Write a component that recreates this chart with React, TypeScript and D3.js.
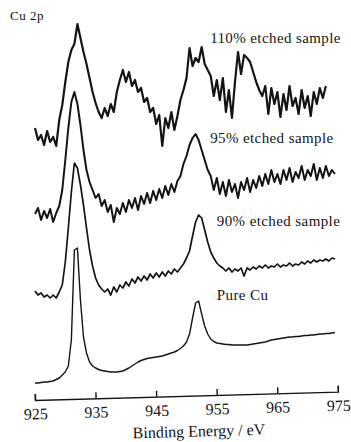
import React, { useEffect, useRef } from 'react';
import * as d3 from 'd3';

// binding energy grid, 0.5 eV steps
const energy = d3.range(925, 975, 0.5);

const xTicks = [925, 935, 945, 955, 965, 975];

const seriesNames = ['110% etched sample', '95% etched sample', '90% etched sample', 'Pure Cu'];

// stacked intensities (a.u.), offsets already included
const etched110 = [
  272, 260, 265, 255, 269, 258, 263, 254, 280, 295,
  318, 338, 350, 356, 376, 362, 348, 336, 322, 308,
  297, 288, 282, 292, 284, 296, 288, 308, 320, 330,
  318, 328, 314, 320, 308, 312, 298, 302, 288, 292,
  276, 285, 254, 282, 272, 288, 270, 284, 300, 310,
  322, 352, 334, 342, 338, 353, 336, 330, 324, 304,
  320, 300, 322, 288, 310, 282, 318, 348, 326, 345,
  342, 338, 328, 318, 310, 304, 314, 286, 312, 296,
  308, 283, 306, 290, 314, 294, 302, 286, 310, 292,
  304, 284, 308, 296, 312, 302, 314, null, null, null,
];

const etched95 = [
  186, 192, 180, 189, 182, 191, 178, 187, 194, 210,
  240, 272, 298, 308, 296, 275, 250, 230, 218, 210,
  202, 206, 194, 200, 188, 195, 178, 192, 186, 197,
  188, 200, 192, 202, 190, 204, 196, 207, 197, 209,
  200, 211, 202, 214, 205, 216, 208, 219, 224, 236,
  244, 255, 262, 266, 260, 250, 240, 230, 224, 210,
  222, 206, 218, 204, 220, 208, 216, 202, 218, 210,
  222, 208, 220, 212, 224, 214, 226, 216, 230, 218,
  226, 216, 230, 220, 232, 218, 228, 222, 234, 220,
  230, 224, 236, 220, 232, 222, 234, 224, 230, 226,
];

const etched90 = [
  109, 105, 107, 103, 105, 102, 105, 102, 108, 115,
  138, 172, 208, 237, 232, 215, 195, 172, 150, 134,
  122, 115, 111, 108, 111, 105, 113, 108, 115, 112,
  118, 114, 121, 117, 123, 119, 124, 120, 126, 122,
  127, 123, 128, 124, 129, 126, 131, 128, 132, 136,
  142, 149, 164, 178, 185, 182, 170, 158, 148, 142,
  137, 134, 132, 129, 132, 128, 131, 129, 132, 124,
  132, 130, 133, 131, 134, 132, 135, 132, 134, 133,
  136, 133, 135, 134, 137, 134, 136, 135, 138, 136,
  139, 137, 140, 138, 140, 139, 141, 139, 142, 141,
];

const pureCu = [
  17, 17, 17.5, 18, 18, 18.5, 19, 20.5, 22, 25,
  28, 34, 60, 150, 152, 100, 63, 47, 38, 34,
  32, 30.5, 29.5, 29, 28.5, 28, 28, 28, 28.5, 29,
  30.5, 32, 34, 36, 38, 39.5, 40.5, 41.5, 42, 42.5,
  43, 43.5, 44, 45, 46, 47, 48, 49.5, 51.5, 54,
  58, 66, 82, 97, 99, 86, 74, 66, 61, 58.5,
  57, 56.5, 56, 55.5, 55.5, 55, 55, 55, 55, 55,
  55, 55.5, 56, 56.5, 57, 57.5, 58, 59, 60, 60.5,
  61, 61.5, 62, 62.5, 63, 63, 63.5, 63.5, 64, 64.5,
  64.5, 65, 65, 65.5, 66, 66, 66.5, 66.5, 67, 67.5,
];

const allSeries = [etched110, etched95, etched90, pureCu];

// where each label sits, in data units (energy, intensity)
const labelPos: [number, number][] = [
  [953.9, 357],
  [953.9, 257],
  [955.0, 174],
  [955.0, 100],
];

export default function App() {
  const svgRef = useRef<SVGSVGElement>(null);
  const width = 351;
  const height = 442;

  useEffect(() => {
    if (!svgRef.current) return;
    const svg = d3.select(svgRef.current);
    svg.selectAll('*').remove();

    const font = "'Liberation Serif', 'DejaVu Serif', 'Times New Roman', serif";
    const ink = '#141414';

    const xScale = d3.scaleLinear().domain([925, 975]).range([35, 338]);
    const yScale = d3.scaleLinear().domain([0, 400]).range([400, 0]);

    const line = d3.line<number | null>()
      .defined(d => d != null)
      .x((_, i) => xScale(energy[i]))
      .y(d => yScale(d as number));

    const widths = [2.2, 2.0, 1.7, 1.4];
    allSeries.forEach((s, k) => {
      svg.append('path')
        .datum(s)
        .attr('fill', 'none')
        .attr('stroke', ink)
        .attr('stroke-width', widths[k])
        .attr('stroke-linejoin', 'round')
        .attr('d', line);
    });

    // series labels
    seriesNames.forEach((name, k) => {
      svg.append('text')
        .attr('x', xScale(labelPos[k][0]))
        .attr('y', yScale(labelPos[k][1]))
        .attr('font-family', font)
        .attr('font-size', 15)
        .attr('letter-spacing', 0.4)
        .attr('fill', ink)
        .text(name);
    });

    svg.append('text')
      .attr('x', 10)
      .attr('y', 20)
      .attr('font-family', font)
      .attr('font-size', 13)
      .attr('letter-spacing', 0.5)
      .attr('fill', ink)
      .text('Cu 2p');

    // axis (the scan is slightly tilted)
    const axisG = svg.append('g')
      .attr('transform', `translate(0,${yScale(0)}) rotate(-1.57, ${xScale(925)}, 0)`);

    axisG.call(
      d3.axisBottom(xScale)
        .tickValues(xTicks)
        .tickSize(-6)
        .tickPadding(8)
        .tickFormat(d3.format('d'))
    );
    axisG.attr('font-family', font).attr('font-size', 16);
    axisG.selectAll('path, line')
      .attr('stroke', ink)
      .attr('stroke-width', 1.4);
    axisG.selectAll('text')
      .attr('fill', ink);

    axisG.append('text')
      .attr('x', 198)
      .attr('y', 41)
      .attr('text-anchor', 'middle')
      .attr('fill', ink)
      .text('Binding Energy / eV');
  }, []);

  return (
    <svg
      ref={svgRef}
      width={width}
      height={height}
      style={{ position: 'absolute', left: 0, top: 0, background: '#fff' }}
    />
  );
}
